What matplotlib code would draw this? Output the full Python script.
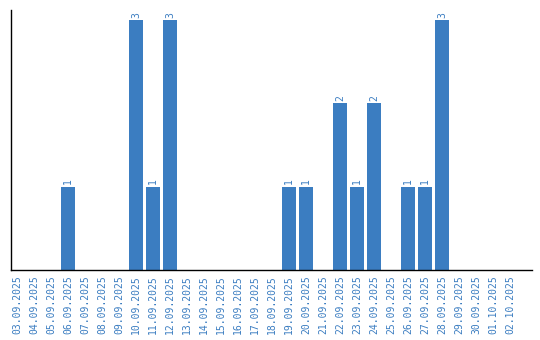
"""Daily count bar chart, Sept-Oct 2025."""

import matplotlib
matplotlib.use("Agg")
import matplotlib.pyplot as plt

dates = [
    "03.09.2025", "04.09.2025", "05.09.2025", "06.09.2025", "07.09.2025",
    "08.09.2025", "09.09.2025", "10.09.2025", "11.09.2025", "12.09.2025",
    "13.09.2025", "14.09.2025", "15.09.2025", "16.09.2025", "17.09.2025",
    "18.09.2025", "19.09.2025", "20.09.2025", "21.09.2025", "22.09.2025",
    "23.09.2025", "24.09.2025", "25.09.2025", "26.09.2025", "27.09.2025",
    "28.09.2025", "29.09.2025", "30.09.2025", "01.10.2025", "02.10.2025",
]
counts = [0, 0, 0, 1, 0, 0, 0, 3, 1, 3,
          0, 0, 0, 0, 0, 0, 1, 1, 0, 2,
          1, 2, 0, 1, 1, 3, 0, 0, 0, 0]

BLUE = "#3b7dc1"

fig = plt.figure(figsize=(5.4, 3.4), dpi=100)
ax = fig.add_axes([11 / 540, 70 / 340, 521 / 540, 260 / 340])

x = list(range(len(dates)))
bars = ax.bar(x, counts, width=0.82, color=BLUE)

for xi, v in zip(x, counts):
    if v > 0:
        ax.text(xi, v + 0.03, str(v), rotation=90, ha="center", va="bottom",
                fontsize=7, color=BLUE, family="DejaVu Sans Mono")

ax.set_xlim(-0.35, 30.3)
ax.set_ylim(0, 3.12)
ax.set_xticks(x)
ax.set_xticklabels(dates, rotation=90, fontsize=7, color=BLUE, family="DejaVu Sans Mono")
ax.tick_params(axis="x", length=0, pad=4)
ax.set_yticks([])
for side in ("top", "right"):
    ax.spines[side].set_visible(False)
for side in ("left", "bottom"):
    ax.spines[side].set_color("black")
    ax.spines[side].set_linewidth(1.0)

fig.savefig("out.png", dpi=100)
plt.close(fig)
